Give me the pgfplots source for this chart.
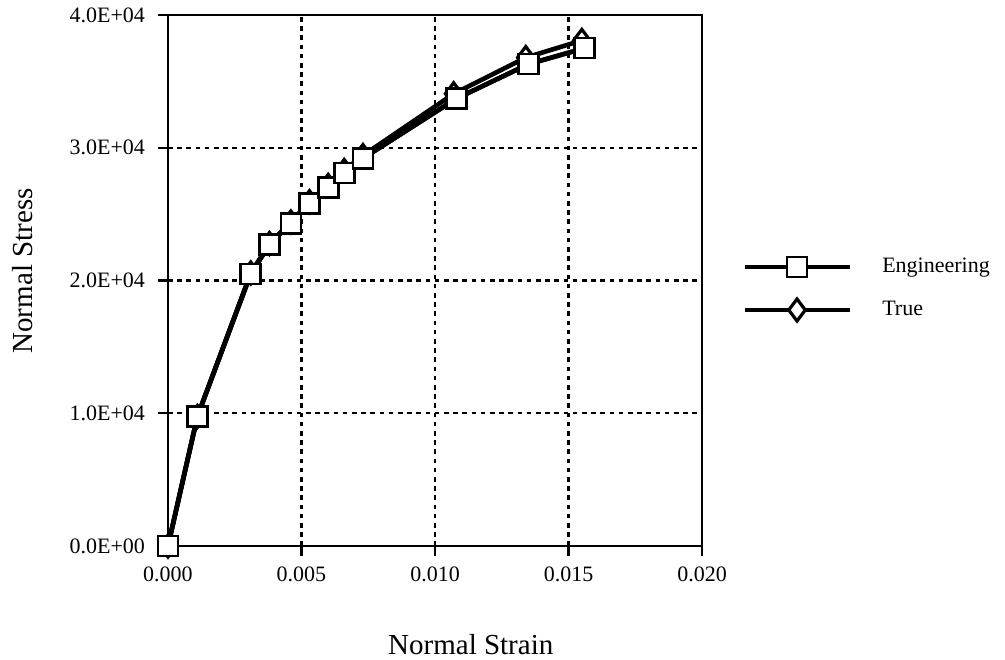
\documentclass[border=0pt]{standalone}
\usepackage{pgfplots}
\pgfplotsset{compat=1.18}
\usepackage{fontspec}
\setmainfont{Liberation Serif}
\begin{document}
\begin{tikzpicture}
\begin{axis}[
  scale only axis,
  width=267pt, height=265.5pt,
  xmin=0, xmax=0.020, ymin=0, ymax=40000,
  xtick={0,0.005,0.010,0.015,0.020},
  xticklabels={0.000,0.005,0.010,0.015,0.020},
  ytick={0,10000,20000,30000,40000},
  yticklabels={0.0E+00,1.0E+04,2.0E+04,3.0E+04,4.0E+04},
  scaled x ticks=false, scaled y ticks=false,
  tick pos=left,
  tick align=outside,
  major tick length=5pt,
  tick style={black, line width=1.1pt},
  axis line style={black, line width=1.1pt},
  grid=major,
  major grid style={black, line width=1.2pt, dash pattern=on 2.3pt off 2.3pt},
  ticklabel style={font=\fontsize{11}{13}\selectfont},
  xticklabel style={yshift=-2pt},
  yticklabel style={xshift=-3pt},
  xlabel={Normal Strain},
  ylabel={Normal Stress},
  label style={font=\fontsize{14.5}{17}\selectfont},
  xlabel style={at={(axis description cs:0.567,-0.186)}, anchor=center},
  ylabel style={at={(axis description cs:-0.2715,0.518)}, anchor=center},
  legend style={draw=none, fill=none, at={(axis description cs:1,0.484)}, anchor=west,
    xshift=20.5pt, inner sep=0pt, row sep=11pt,
    nodes={inner sep=0pt, anchor=west},
    font=\fontsize{11}{13}\selectfont},
  legend cell align=left,
  legend image code/.code={
    \draw[#1, line width=1.6pt, mark repeat=2, mark phase=2] plot coordinates {(0pt,0pt) (26pt,0pt) (52.5pt,0pt)};
    \path (67.5pt,0pt);
  },
  clip=false,
]
\addplot[black, line width=2.3pt, mark=square*, mark size=5pt,
  mark options={fill=white, draw=black, line width=1.3pt, solid}] coordinates {
  (0,0) (0.0011,9750) (0.0031,20500) (0.0038,22700) (0.0046,24300)
  (0.0053,25800) (0.0060,27000) (0.0066,28100) (0.0073,29200)
  (0.0108,33700) (0.0135,36300) (0.0156,37500)
};
\addlegendentry{Engineering}
\addplot[black, line width=2.3pt, mark=diamond*, mark size=5.5pt,
  mark options={fill=white, draw=black, line width=1.6pt, solid}] coordinates {
  (0,0) (0.0011,9761) (0.0031,20564) (0.0038,22786) (0.0046,24412)
  (0.0053,25937) (0.0060,27162) (0.0066,28285) (0.0073,29413)
  (0.0107,34064) (0.0134,36790) (0.0155,38085)
};
\addlegendentry{True}
% redraw engineering markers on top
\addplot[black, line width=2.3pt, mark=square*, mark size=5pt,
  mark options={fill=white, draw=black, line width=1.3pt, solid}, forget plot] coordinates {
  (0,0) (0.0011,9750) (0.0031,20500) (0.0038,22700) (0.0046,24300)
  (0.0053,25800) (0.0060,27000) (0.0066,28100) (0.0073,29200)
  (0.0108,33700) (0.0135,36300) (0.0156,37500)
};
\end{axis}
\pgfresetboundingbox
\path ([shift={(-84pt,-56.5pt)}]current axis.south west) rectangle ([shift={(151.5pt,7.5pt)}]current axis.north east);
\end{tikzpicture}
\end{document}
